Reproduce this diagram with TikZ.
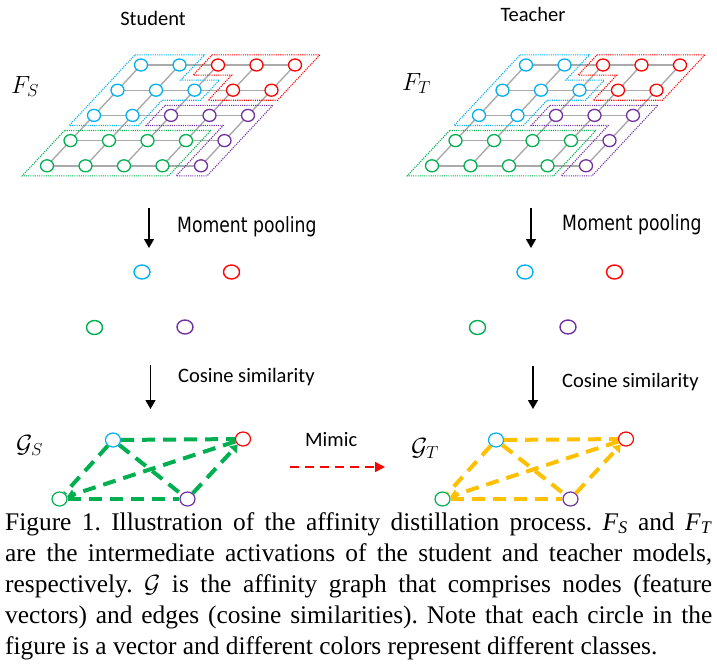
\documentclass[tikz,border=0pt]{standalone}
\usepackage{fontspec}
\setmainfont{Liberation Serif}
\newfontfamily\lblfont{Carlito}
\newfontfamily\mpfont[FakeStretch=0.82]{DejaVu Sans}
\usetikzlibrary{arrows.meta,shapes.geometric}
\definecolor{cB}{RGB}{0,176,240}
\definecolor{cR}{RGB}{255,0,0}
\definecolor{cG}{RGB}{0,176,80}
\definecolor{cP}{RGB}{112,48,160}
\definecolor{cY}{RGB}{255,192,0}
\definecolor{gridgray}{RGB}{170,170,170}
\tikzset{
  gridline/.style={draw=gridgray, line width=1.4pt},
  cell/.style={ellipse, draw=#1, fill=white, line width=1.3pt, minimum width=13pt, minimum height=12pt, inner sep=0pt},
  region/.style={draw=#1, line width=1.1pt, dash pattern=on 1.1pt off 1.1pt},
  pooled/.style={ellipse, draw=#1, line width=1.4pt, minimum width=16pt, minimum height=14pt, inner sep=0pt},
  gnode/.style={ellipse, draw=#1, fill=white, line width=1.2pt, minimum width=15pt, minimum height=14pt, inner sep=0pt},
  gedge/.style={draw=#1, line width=4pt, dash pattern=on 13pt off 8pt},
  gtip/.style={-{Triangle[length=7pt,width=10pt]}},
  varrow/.style={draw=black, line width=1.3pt, -{Triangle[length=9pt,width=10pt]}},
  mimicarrow/.style={draw=cR, line width=1.5pt, dash pattern=on 9pt off 6pt, -{Triangle[length=10pt,width=10pt]}},
  lbl/.style={font=\lblfont\fontsize{20.5}{24}\selectfont, inner sep=0pt},
  mp/.style={font=\mpfont\fontsize{21}{24}\selectfont, inner sep=0pt, anchor=base west},
  capline/.style={font=\frenchspacing\fontsize{25.4}{31}\selectfont, inner sep=0pt, anchor=base west},
  sym/.style={font=\fontsize{22}{26}\selectfont, inner sep=0pt, anchor=base west, scale=1.2},
}
\begin{document}
\begin{tikzpicture}[x=1pt,y=-1pt]
\useasboundingbox (0,0) rectangle (717,670);
% ---------- feature grids ----------
\foreach \p/\ox in {s/141,t/526}{
  \begin{scope}[shift={(\ox,65)}, x={(38.5pt,0pt)}, y={(-23.5pt,-25.2pt)}]
    \foreach \r in {0,...,4}{\foreach \c in {0,...,4}{\coordinate (\p-\r-\c) at (\c,\r);}}
    \foreach \k in {0,...,4}{
      \draw[gridline] (\p-\k-0) -- (\p-\k-4);
      \draw[gridline] (\p-0-\k) -- (\p-4-\k);
    }
    \foreach \r/\cols in {0/{cB,cB,cR,cR,cR},1/{cB,cB,cB,cR,cR},2/{cB,cB,cP,cP,cP},3/{cG,cG,cG,cG,cP},4/{cG,cG,cG,cG,cP}}{
      \foreach \col [count=\c from 0] in \cols {\node[cell=\col] (\p-n-\r-\c) at (\p-\r-\c) {};}
    }
    \draw[region=cB] (-0.4,-0.4) -- (1.4,-0.4) -- (1.4,0.6) -- (2.4,0.6) -- (2.4,1.4) -- (1.4,1.4) -- (1.4,2.4) -- (-0.4,2.4) -- cycle;
    \draw[region=cR] (1.6,-0.4) -- (4.4,-0.4) -- (4.4,1.4) -- (2.6,1.4) -- (2.6,0.4) -- (1.6,0.4) -- cycle;
    \draw[region=cP] (1.6,1.6) -- (4.4,1.6) -- (4.4,4.4) -- (3.6,4.4) -- (3.6,2.4) -- (1.6,2.4) -- cycle;
    \draw[region=cG] (-0.4,2.6) -- (3.4,2.6) -- (3.4,4.4) -- (-0.4,4.4) -- cycle;
  \end{scope}
}
% ---------- titles and symbols ----------
\node[lbl, anchor=base] (stud) at (153,25) {Student};
\node[lbl, anchor=base] (teach) at (533,21) {Teacher};
\node[sym] (fs) at (11,93) {$F_S$};
\node[sym] (ft) at (402,90) {$F_T$};
% ---------- moment pooling ----------
\coordinate (s-a1t) at (149,208); \coordinate (s-a1b) at (149,248);
\coordinate (t-a1t) at (531,208); \coordinate (t-a1b) at (531,248);
\draw[varrow] (s-a1t) -- (s-a1b);
\draw[varrow] (t-a1t) -- (t-a1b);
\node[mp] (s-mp) at (177,232) {Moment pooling};
\node[mp] (t-mp) at (562,230) {Moment pooling};
% pooled vectors
\node[pooled=cB] (s-pB) at (142,272) {};
\node[pooled=cR] (s-pR) at (231.5,272) {};
\node[pooled=cG] (s-pG) at (94.5,327.5) {};
\node[pooled=cP] (s-pP) at (185,327) {};
\node[pooled=cB] (t-pB) at (525,272) {};
\node[pooled=cR] (t-pR) at (614.5,272) {};
\node[pooled=cG] (t-pG) at (477.5,327.5) {};
\node[pooled=cP] (t-pP) at (568,327) {};
% ---------- cosine similarity ----------
\coordinate (s-a2t) at (150.5,365); \coordinate (s-a2b) at (150.5,409);
\coordinate (t-a2t) at (533,366); \coordinate (t-a2b) at (533,409);
\draw[varrow] (s-a2t) -- (s-a2b);
\draw[varrow] (t-a2t) -- (t-a2b);
\node[lbl, anchor=base west] (s-cs) at (178,382) {Cosine similarity};
\node[lbl, anchor=base west] (t-cs) at (562,387) {Cosine similarity};
% ---------- affinity graphs ----------
\node[sym] (gs) at (16,452) {$\mathcal{G}_S$};
\node[sym] (gt) at (411,455) {$\mathcal{G}_T$};
\foreach \p/\ox/\ec in {s/0/cG,t/383/cY}{
  \node[gnode=cB] (\p-gB) at ({113+\ox},440) {};
  \node[gnode=cR] (\p-gR) at ({243+\ox},439) {};
  \node[gnode=cG] (\p-gG) at ({59.5+\ox},499) {};
  \node[gnode=cP] (\p-gP) at ({187.5+\ox},499) {};
  \draw[gedge=\ec] (\p-gB) -- (\p-gR);
  \draw[gedge=\ec] (\p-gB) -- (\p-gG);
  \draw[gedge=\ec] (\p-gB) -- (\p-gP);
  \draw[gedge=\ec, gtip] (\p-gR) -- (\p-gG);
  \draw[gedge=\ec, gtip] (\p-gP) -- (\p-gR);
  \draw[gedge=\ec] (\p-gG) -- (\p-gP);
}
% ---------- mimic ----------
\node[lbl, anchor=base west] (mimic) at (305,446) {Mimic};
\coordinate (m-a) at (290,467); \coordinate (m-b) at (385,467);
\draw[mimicarrow] (m-a) -- (m-b);
% ---------- caption ----------
\node[capline] (cap1) at (5,530) {\makebox[707pt][s]{Figure 1. Illustration of the affinity distillation process. \textit{F}\textsubscript{\textit{S}} and \textit{F}\textsubscript{\textit{T}}}};
\node[capline] (cap2) at (5,561) {\makebox[707pt][s]{are the intermediate activations of the student and teacher models,}};
\node[capline] (cap3) at (5,592) {\makebox[707pt][s]{respectively. $\mathcal{G}$ is the affinity graph that comprises nodes (feature}};
\node[capline] (cap4) at (5,623) {\makebox[707pt][s]{vectors) and edges (cosine similarities). Note that each circle in the}};
\node[capline] (cap5) at (5,654) {figure is a vector and different colors represent different classes.};
\end{tikzpicture}
\end{document}
